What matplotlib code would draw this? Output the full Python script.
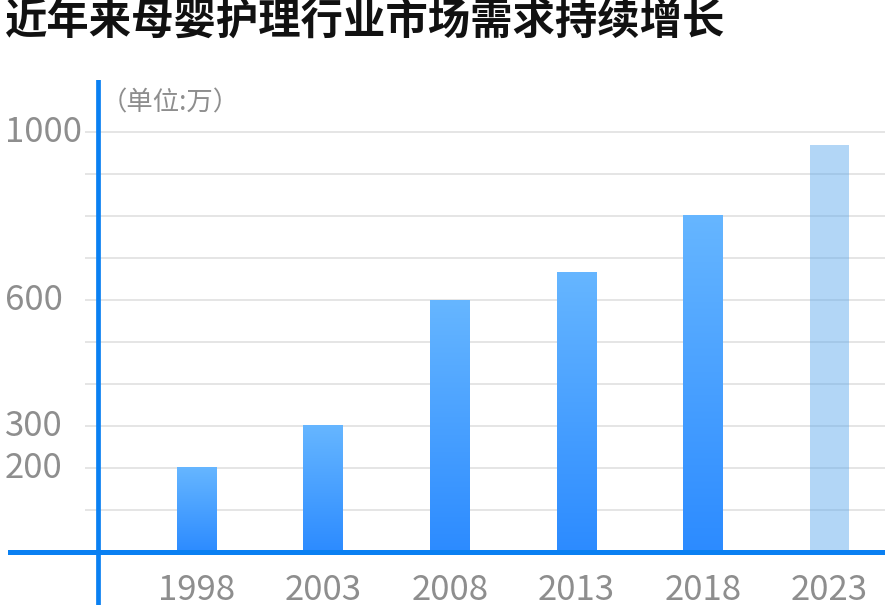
import numpy as np
import matplotlib
matplotlib.use("Agg")
import matplotlib.pyplot as plt
from matplotlib.colors import LinearSegmentedColormap

plt.rcParams['font.family'] = ['Noto Sans CJK SC', 'DejaVu Sans']

title = "近年来母婴护理行业市场需求持续增长"
unit = "（单位:万）"
years = ["1998", "2003", "2008", "2013", "2018", "2023"]
values = [200, 300, 600, 665, 800, 970]
ytick_labels = [200, 300, 600, 1000]
grid_values = list(range(100, 1001, 100))

blue = "#0a80f2"
gray = "#8e8e8e"

fig = plt.figure(figsize=(8.85, 6.09), dpi=100)
ax = fig.add_axes([8 / 885, 4 / 609, 877 / 885, 525 / 609])
ax.set_xlim(-1.489, 5.438)
ax.set_ylim(-126, 1124)
ax.axis("off")

# grid lines
ax.hlines(grid_values, -0.88, 5.438, colors="#dedede", lw=1.1, zorder=1)

# gradient bars
cmap = LinearSegmentedColormap.from_list("bar", ["#2c8bff", "#66b6ff"])
grad = np.linspace(0, 1, 256).reshape(-1, 1)
w = 0.31
for i, v in enumerate(values):
    if i == len(values) - 1:
        ax.bar(i, v, width=w, color="#56a6ed", alpha=0.45, zorder=2)
    else:
        ax.imshow(grad, cmap=cmap, aspect="auto", origin="lower",
                  extent=(i - w / 2, i + w / 2, 0, v), zorder=2)

# axis lines
ax.axhline(0, color=blue, lw=3.6, zorder=3)
ax.axvline(-0.782, color=blue, lw=3.4, zorder=3)

for t in ytick_labels:
    ax.text(-1.515, t, str(t), ha="left", va="center", fontsize=25,
            color=gray)
for i, y in enumerate(years):
    ax.text(i, -92, y, ha="center", va="center", fontsize=25, color=gray)

ax.text(-0.76, 1070, unit, ha="left", va="center", fontsize=19, color=gray)

fig.text(5 / 885, 1 - 22 / 609, title, ha="left", va="center", fontsize=30.5,
         fontweight="bold", color="#111111")

fig.savefig("out.png", dpi=100)
